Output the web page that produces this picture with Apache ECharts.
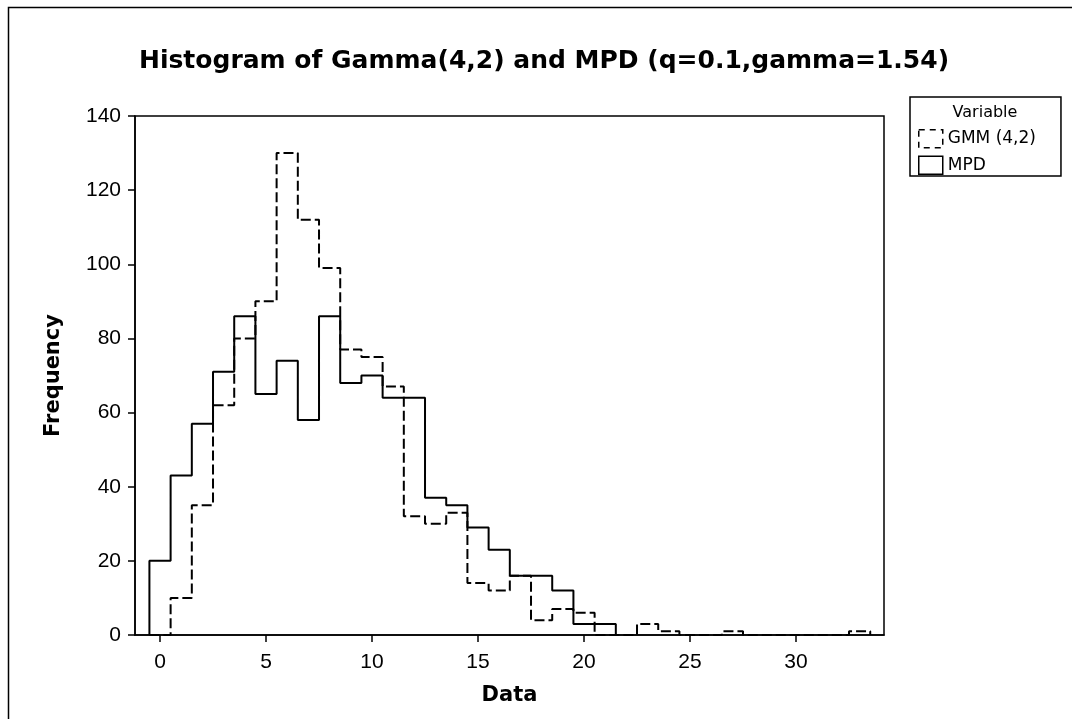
<!DOCTYPE html>
<html>
<head>
<meta charset="utf-8">
<script src="https://cdn.jsdelivr.net/npm/echarts@6/dist/echarts.min.js"></script>
<style>
  html, body { margin: 0; padding: 0; background: #fff; }
  #chart { width: 1072px; height: 719px; }
</style>
</head>
<body>
<div id="chart"></div>
<script>
// ---- data (bins of width 1 centred on integers) ----
const binStart = 0;          // centre of first bin
const binWidth = 1;
const gmmCounts = [0, 10, 35, 62, 80, 90, 130, 112, 99, 77, 75, 67, 32, 30, 33, 14, 12, 16, 4, 7, 6, 0, 0, 3, 1, 0, 0, 1, 0, 0, 0, 0, 0, 1];
const mpdCounts = [20, 43, 57, 71, 86, 65, 74, 58, 86, 68, 70, 64, 64, 37, 35, 29, 23, 16, 16, 12, 3, 3];
const xTicks = [0, 5, 10, 15, 20, 25, 30];
const seriesNames = ['GMM (4,2)', 'MPD'];

// outline (step) points from bin counts
function outline(counts) {
  const pts = [];
  const e0 = binStart - binWidth / 2;
  pts.push([e0, 0]);
  counts.forEach((v, i) => pts.push([e0 + i * binWidth, v]));
  pts.push([e0 + counts.length * binWidth, 0]);
  return pts;
}

const FONT = 'Liberation Sans, Arial, sans-serif';
const DV = 'DejaVu Sans, sans-serif';
const chart = echarts.init(document.getElementById('chart'), null, { renderer: 'canvas' });

chart.setOption({
  animation: false,
  backgroundColor: '#fff',
  title: {
    text: 'Histogram of Gamma(4,2) and MPD (q=0.1,gamma=1.54)',
    left: 139,
    top: 44,
    padding: [5, 0, 5, 0],
    textStyle: { fontFamily: DV, fontWeight: 'bold', fontSize: 25, color: '#000' }
  },
  grid: {
    left: 135, right: 188, top: 116, bottom: 84,
    show: true, borderColor: '#000', borderWidth: 1.5, backgroundColor: 'transparent'
  },
  legend: {
    orient: 'vertical',
    left: 910, top: 97,
    padding: [32, 25, 1, 8],
    itemWidth: 24, itemHeight: 18, itemGap: 7,
    borderColor: '#000', borderWidth: 1.5,
    textStyle: { fontFamily: DV, fontSize: 17, lineHeight: 18, color: '#000' },
    data: [
      { name: seriesNames[0], icon: 'rect', itemStyle: { color: 'rgba(0,0,0,0)', borderColor: '#000', borderWidth: 1.5, borderType: [6, 5] } },
      { name: seriesNames[1], icon: 'rect', itemStyle: { color: 'rgba(0,0,0,0)', borderColor: '#000', borderWidth: 1.5, borderType: 'solid' } }
    ]
  },
  graphic: [
    { type: 'rect', left: 6, top: 5, silent: true,
      shape: { width: 1200, height: 800 },
      style: { fill: 'none', stroke: '#000', lineWidth: 1.5 } },
    { type: 'text', x: 985, y: 113, silent: true,
      style: { text: 'Variable', fontFamily: DV, fontSize: 16, fill: '#000', align: 'center', verticalAlign: 'middle' } }
  ],
  xAxis: {
    type: 'value',
    min: -1.18, max: 34.15,
    name: 'Data', nameLocation: 'middle', nameGap: 50,
    nameTextStyle: { fontFamily: DV, fontWeight: 'bold', fontSize: 21, color: '#000' },
    axisLine: { show: true, onZero: false, lineStyle: { color: '#000', width: 1.5 } },
    axisTick: { show: true, length: 7, customValues: xTicks, lineStyle: { color: '#000', width: 1.5 } },
    axisLabel: { customValues: xTicks, margin: 17, fontFamily: FONT, fontSize: 21, color: '#000' },
    splitLine: { show: false }
  },
  yAxis: {
    type: 'value',
    min: 0, max: 140, interval: 20,
    name: 'Frequency', nameLocation: 'middle', nameGap: 71,
    nameTextStyle: { fontFamily: DV, fontWeight: 'bold', fontSize: 21, color: '#000' },
    axisLine: { show: true, onZero: false, lineStyle: { color: '#000', width: 1.5 } },
    axisTick: { show: true, length: 7, lineStyle: { color: '#000', width: 1.5 } },
    axisLabel: { margin: 14, fontFamily: FONT, fontSize: 21, color: '#000' },
    splitLine: { show: false }
  },
  series: [
    {
      name: seriesNames[0], type: 'line', step: 'end', symbol: 'none',
      data: outline(gmmCounts),
      lineStyle: { color: '#000', width: 2, type: [10, 4] },
      itemStyle: { color: '#000' }, z: 3
    },
    {
      name: seriesNames[1], type: 'line', step: 'end', symbol: 'none',
      data: outline(mpdCounts),
      lineStyle: { color: '#000', width: 2, type: 'solid' },
      itemStyle: { color: '#000' }, z: 4
    }
  ]
});
</script>
</body>
</html>
